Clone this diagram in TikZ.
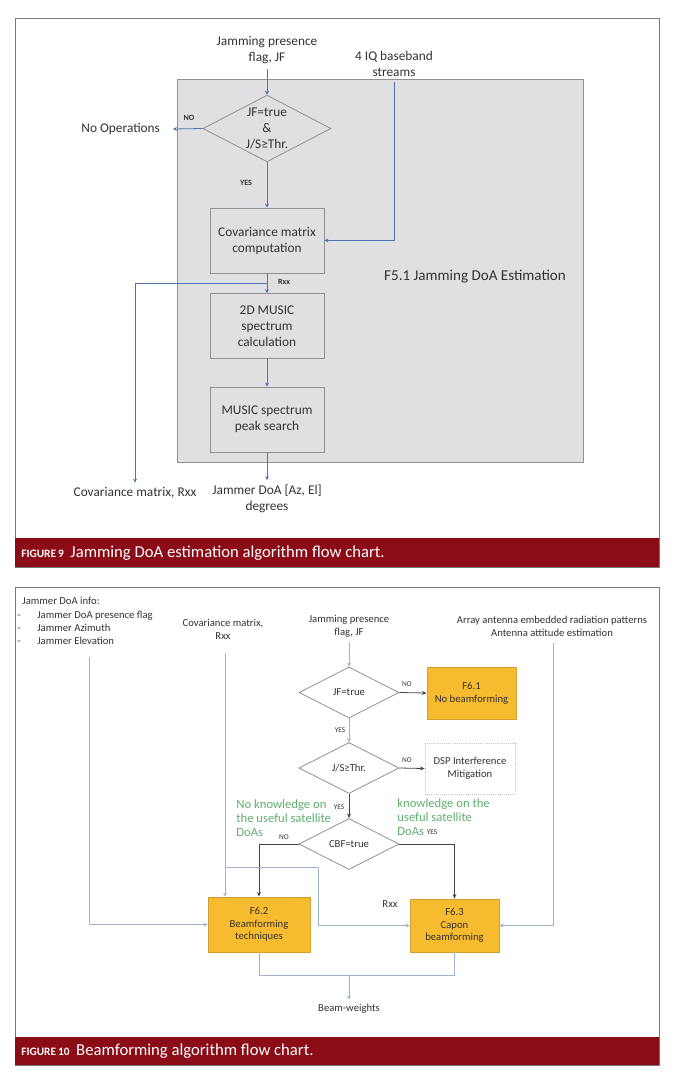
\documentclass[tikz,border=0pt]{standalone}
\usepackage{fontspec}
\setmainfont{Carlito}
\usetikzlibrary{shapes.geometric,arrows.meta,positioning,calc}
\definecolor{capred}{RGB}{139,12,22}
\definecolor{panelgray}{RGB}{224,224,226}
\definecolor{edgegray}{RGB}{145,145,148}
\definecolor{framegray}{RGB}{120,120,120}
\definecolor{flowblue}{RGB}{79,116,179}
\definecolor{linkblue}{RGB}{160,180,208}
\definecolor{darkflow}{RGB}{70,70,70}
\definecolor{boxorange}{RGB}{247,187,48}
\definecolor{boxedge}{RGB}{210,160,50}
\definecolor{notegreen}{RGB}{96,176,112}
\definecolor{txtgray}{RGB}{50,50,50}

\begin{document}
\begin{tikzpicture}[x=0.75pt,y=-0.75pt,line width=0.6pt,
    txt/.style={text=txtgray,font=\fontsize{10}{12}\selectfont,align=center},
    small/.style={text=txtgray,font=\fontsize{8}{9.5}\selectfont,align=center},
    tag/.style={text=txtgray,font=\fontsize{5.5}{6}\selectfont},
    bigtag/.style={text=txtgray,font=\bfseries\fontsize{6}{7}\selectfont},
    note/.style={text=notegreen,font=\fontsize{9.5}{10.5}\selectfont,align=left,anchor=north west,inner sep=0pt},
    procbox/.style={draw=edgegray,fill=panelgray,minimum width=85.5pt,minimum height=48.75pt,txt},
    decide/.style={diamond,draw=edgegray,inner sep=0pt},
    fbox/.style={draw=boxedge,fill=boxorange,small},
    bluearrow/.style={draw=flowblue,-{Stealth[length=3pt,width=3pt]}},
    lightarrow/.style={draw=linkblue,-{Stealth[length=3pt,width=3pt]}},
    lightline/.style={draw=linkblue},
    darkarrow/.style={draw=darkflow,-{Stealth[length=3.5pt,width=3pt]}},
    caption/.style={anchor=west,text=white,inner sep=0pt}]
    \useasboundingbox (0,0) rectangle (680,1082);

    % figure 9
    \draw[framegray] (15,18) rectangle (659,567);
    \fill[capred] (15,538) rectangle (659,567);
    \node[caption] (cap9) at (21,553) {{\bfseries\fontsize{8.5}{9}\selectfont FIGURE\,9}\hspace{5pt}{\fontsize{12.5}{14}\selectfont Jamming DoA estimation algorithm flow chart.}};

    \draw[draw=edgegray,fill=panelgray] (177,79) rectangle (583,462);
    \node[txt,font=\fontsize{11.3}{13}\selectfont] (est) at (475,277) {F5.1 Jamming DoA Estimation};

    \node[txt] (jf9) at (267,50) {Jamming presence\\flag, JF};
    \node[txt] (iq) at (394,64) {4 IQ baseband\\streams};
    \node[decide,fill=panelgray,minimum width=96pt,minimum height=50pt,
          label={[txt]center:{JF=true\\\&\\J/S≥Thr.}}] (dec9) at (267,128.5) {};
    \node[txt,anchor=east,inner xsep=9.5pt] (noop) at (173,129) {No Operations};
    \node[procbox] (cov) at (267,240.5) {Covariance matrix\\computation};
    \node[procbox] (m2d) at (267,326) {2D MUSIC\\spectrum\\calculation};
    \node[procbox] (peak) at (267,419.5) {MUSIC spectrum\\peak search};
    \node[txt] (covrx) at (135,493) {Covariance matrix, Rxx};
    \node[txt] (doa) at (267,499) {Jammer DoA [Az, El]\\degrees};
    \coordinate (rxxjn) at (267,283);

    \node[bigtag] (no9) at (189,118) {NO};
    \node[bigtag] (yes9) at (246,183) {YES};
    \node[bigtag] (rxx9) at (284,282) {Rxx};

    \draw[bluearrow] (jf9.south) -- (dec9.north);
    \draw[bluearrow] (dec9.west) -- (noop.east);
    \draw[bluearrow] (dec9.south) -- (cov.north);
    \draw[bluearrow] (iq.south) |- (cov.east);
    \draw[bluearrow] (cov.south) -- (m2d.north);
    \draw[bluearrow] (rxxjn) -| (covrx.north);
    \draw[bluearrow] (m2d.south) -- (peak.north);
    \draw[bluearrow] (peak.south) -- (doa.north);

    % figure 10
    \draw[framegray] (15,587) rectangle (659,1065);
    \fill[capred] (15,1037) rectangle (659,1065);
    \node[caption] (cap10) at (21,1051) {{\bfseries\fontsize{8.5}{9}\selectfont FIGURE\,10}\hspace{5pt}{\fontsize{12.5}{14}\selectfont Beamforming algorithm flow chart.}};

    \node[small,align=left,anchor=north west,inner sep=0pt] (info) at (17,597)
        {\hspace*{3.75pt}Jammer DoA info:\\[1pt]
         -\hspace{12.5pt}Jammer DoA presence flag\\
         -\hspace{12.5pt}Jammer Azimuth\\
         -\hspace{12.5pt}Jammer Elevation};
    \node[small] (cov10) at (223,629) {Covariance matrix,\\Rxx};
    \node[small] (jf10) at (349,626) {Jamming presence\\flag, JF};
    \node[small] (arr) at (552,626) {Array antenna embedded radiation patterns\\Antenna attitude estimation};

    \node[decide,minimum width=75pt,minimum height=38.25pt,label={[small]center:JF=true}] (d1) at (349,692.5) {};
    \node[decide,minimum width=75pt,minimum height=38.25pt,label={[small]center:J/S≥Thr.}] (d2) at (349,768) {};
    \node[decide,minimum width=75pt,minimum height=38.25pt,label={[small]center:CBF=true}] (d3) at (349,844) {};
    \node[fbox,minimum width=66.75pt,minimum height=39pt] (f61) at (471.5,693) {F6.1\\No beamforming};
    \node[small,draw=gray!45,densely dotted,minimum width=67.5pt,minimum height=38.25pt] (dsp) at (470,768.5) {DSP Interference\\Mitigation};
    \node[fbox,minimum width=76.5pt,minimum height=41.25pt] (f62) at (259,924.5) {F6.2\\Beamforming\\techniques};
    \node[fbox,minimum width=66.75pt,minimum height=39.75pt] (f63) at (454.5,925.5) {F6.3\\Capon\\beamforming};
    \node[small] (bw) at (349,1009) {Beam-weights};

    \node[note] (nok) at (236,799) {No knowledge on\\the useful satellite\\DoAs};
    \node[note] (kno) at (397,798) {knowledge on the\\useful satellite\\DoAs};

    \node[tag] (no1) at (407,684) {NO};
    \node[tag] (yes1) at (340,730) {YES};
    \node[tag] (no2) at (407,760) {NO};
    \node[tag] (yes2) at (339,807) {YES};
    \node[tag] (no3) at (284,837) {NO};
    \node[tag] (yes3) at (432,832) {YES};
    \node[small] (rxx10) at (390,904) {Rxx};

    \coordinate (infoout) at (89,657);
    \coordinate (covout) at (225,653);
    \coordinate (covjn) at (225,867);
    \coordinate (covturn) at (318,867);
    \coordinate (arrout) at (553,643);
    \coordinate (mrg) at (349,975);

    \draw[lightarrow] (jf10.south) -- (d1.north);
    \draw[lightarrow] (d1.south) -- (d2.north);
    \draw[darkarrow] (d2.south) -- (d3.north);
    \draw[darkarrow] (d1.east) -- (f61.west);
    \draw[darkarrow] (d2.east) -- (dsp.west);
    \draw[darkarrow] (d3.west) -| (f62.north);
    \draw[darkarrow] (d3.east) -| (f63.north);

    \draw[lightarrow] (infoout) |- (f62.west);
    \draw[lightarrow] (covout) -- (covout |- f62.north);
    \draw[lightarrow] (covjn) -- (covturn) |- (f63.west);
    \draw[lightarrow] (arrout) |- (f63.east);
    \draw[lightline] (f62.south) |- (mrg) -| (f63.south);
    \draw[lightarrow] (mrg) -- (bw.north);
\end{tikzpicture}
\end{document}
